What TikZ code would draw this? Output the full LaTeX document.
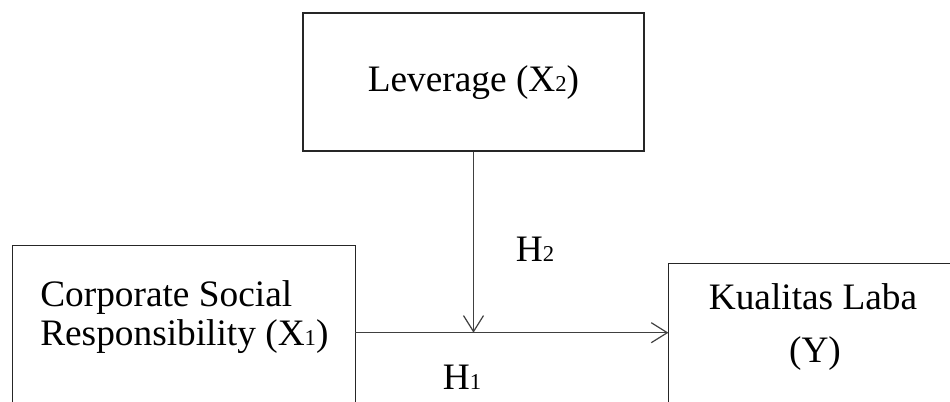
\documentclass[tikz,border=0pt]{standalone}
\usepackage{fontspec}
\setmainfont{Liberation Serif}
\usetikzlibrary{arrows.meta}
\newcommand\lowdigit[1]{{\fontsize{17pt}{17pt}\selectfont #1}}
\tikzset{
  boxnode/.style={draw=black!85, line width=1.1pt, inner sep=0pt, fill=none},
  boxedge/.style={draw=black!85, line width=1.1pt},
  lbl/.style={font=\fontsize{28pt}{34pt}\selectfont, inner sep=0pt, anchor=base},
  arr/.style={draw=black!75, line width=1pt, -{Straight Barb[length=12pt,width=15pt,line width=0.9pt]}}
}
\begin{document}
\begin{tikzpicture}[x=0.75pt,y=-0.75pt]
\useasboundingbox (0,0) rectangle (950,401);
\fill[white] (0,0) rectangle (950,401);
% boxes
\node (lev) [boxnode, minimum width=255.75pt, minimum height=103.5pt] at (473.5,82) {};
\node (cs)  [inner sep=0pt, minimum width=256.5pt, minimum height=117pt] at (184,324) {};
\node (ky)  [inner sep=0pt, minimum width=212pt, minimum height=103.5pt] at (810,333) {};
\draw[boxedge] (cs.south west) -- (cs.north west) -- (cs.north east) -- (cs.south east);
\draw[boxedge] (ky.south west) -- (ky.north west) -- (ky.north east);
% texts
\node (levt) [lbl] at (473.5,91) {Leverage (X\lowdigit{2})};
\node (cst1) [lbl, anchor=base west] at (40,306) {Corporate Social};
\node (cst2) [lbl, anchor=base west] at (40,345) {Responsibility (X\lowdigit{1})};
\node (kyt1) [lbl] at (813,309) {Kualitas Laba};
\node (kyt2) [lbl] at (815,362) {(Y)};
% connectors
\coordinate (hy) at (0,332.7);
\draw[arr] (cs.east |- hy) -- (ky.west |- hy);
\draw[arr] (lev.south) -- (lev.south |- hy);
% hypothesis labels
\node (h2) [lbl] at (535,261) {H\lowdigit{2}};
\node (h1) [lbl] at (462,389) {H\lowdigit{1}};
\end{tikzpicture}
\end{document}
